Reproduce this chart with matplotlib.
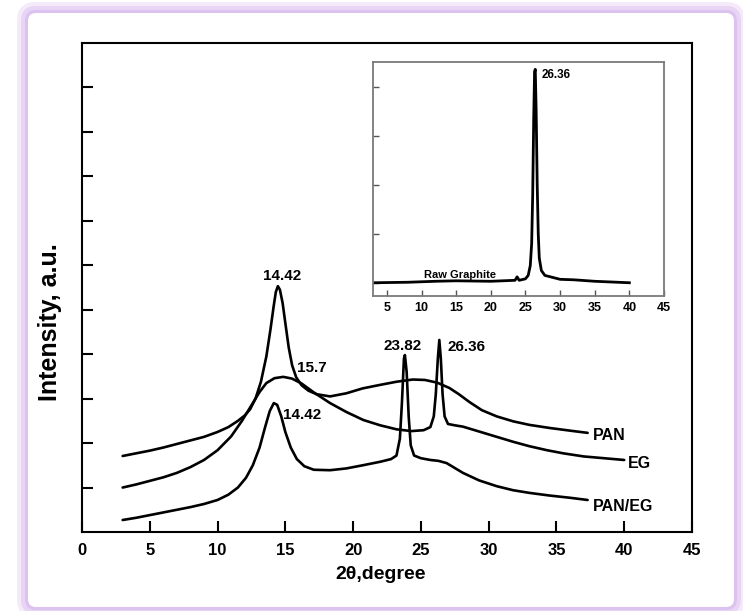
import matplotlib
matplotlib.use('Agg')
import matplotlib.pyplot as plt
from matplotlib.patches import FancyBboxPatch
from matplotlib.transforms import IdentityTransform

plt.rcParams['font.family'] = ['Liberation Sans', 'DejaVu Sans']
plt.rcParams['font.weight'] = 'bold'

# ---------------- data ----------------
pan_x = [3, 4, 5, 6, 7, 8, 9, 10, 10.8, 11.5, 12, 12.4, 12.8, 13.2, 13.6, 13.9, 14.15,
         14.3, 14.45, 14.6, 14.8, 15.0, 15.25, 15.5, 15.8, 16.2, 16.7, 17.3, 18.3, 19.5,
         20.7, 22, 23.2, 24.4, 25.3, 26.2, 27.1, 27.8, 28.6, 29.5, 30.6, 31.8, 33.0,
         34.5, 36, 37.3]
pan_y = [1.71, 1.77, 1.83, 1.9, 1.98, 2.06, 2.14, 2.25, 2.36, 2.5, 2.62, 2.76, 3.0, 3.38,
         3.95, 4.55, 5.1, 5.4, 5.53, 5.45, 5.15, 4.7, 4.15, 3.75, 3.48, 3.3, 3.18, 3.1,
         3.05, 3.12, 3.23, 3.31, 3.38, 3.43, 3.42, 3.36, 3.24, 3.1, 2.92, 2.74, 2.6,
         2.49, 2.41, 2.34, 2.28, 2.23]

eg_x = [3, 4, 5, 6, 7, 8, 9, 10, 11, 11.8, 12.5, 13.1, 13.6, 14.2, 14.85, 15.5, 16.2,
        17.1, 18.3, 19.5, 20.75, 22, 23.2, 24.3, 25.2, 25.7, 25.95, 26.1, 26.25, 26.36,
        26.47, 26.6, 26.75, 27.0, 27.5, 28.1, 29.3, 30.6, 31.8, 33.0, 34.3, 35.5, 37,
        38.5, 40]
eg_y = [1.0, 1.07, 1.15, 1.23, 1.33, 1.46, 1.62, 1.84, 2.15, 2.5, 2.85, 3.15, 3.35, 3.46,
        3.49, 3.45, 3.34, 3.14, 2.9, 2.7, 2.52, 2.4, 2.31, 2.27, 2.29, 2.36, 2.6, 3.1,
        3.9, 4.32, 3.9, 3.1, 2.6, 2.43, 2.4, 2.37, 2.26, 2.14, 2.03, 1.93, 1.84, 1.77,
        1.7, 1.66, 1.62]

paneg_x = [3, 4, 5, 6, 7, 8, 9, 10, 10.8, 11.5, 12.1, 12.6, 13.1, 13.5, 13.85, 14.15,
           14.4, 14.7, 15.0, 15.4, 15.85, 16.4, 17.1, 18.3, 19.5, 20.7, 22.0, 22.8, 23.2,
           23.45, 23.6, 23.75, 23.82, 23.95, 24.1, 24.25, 24.5, 25.0, 25.7, 26.3, 26.9,
           27.5, 28.1, 29.3, 30.6, 31.8, 33.0, 34.5, 36, 37.3]
paneg_y = [0.27, 0.32, 0.38, 0.44, 0.5, 0.56, 0.63, 0.72, 0.84, 1.0, 1.22, 1.5, 1.9,
           2.35, 2.72, 2.9, 2.86, 2.6, 2.25, 1.9, 1.64, 1.48, 1.4, 1.39, 1.43, 1.5, 1.58,
           1.64, 1.72, 2.1, 2.9, 3.9, 3.98, 3.6, 2.6, 1.95, 1.72, 1.66, 1.62, 1.6, 1.55,
           1.44, 1.33, 1.16, 1.03, 0.94, 0.88, 0.82, 0.77, 0.72]

raw_x = [3, 8, 12, 15, 20, 23.5, 23.8, 24.1, 25, 25.4, 25.7, 25.9, 26.05, 26.2, 26.32,
         26.42, 26.55, 26.7, 26.85, 27.0, 27.3, 27.8, 30, 32, 35, 40]
raw_y = [0.0, 0.01, 0.03, 0.04, 0.03, 0.05, 0.12, 0.05, 0.08, 0.15, 0.35, 0.8, 1.8, 3.4,
         4.3, 4.35, 3.5, 2.0, 1.0, 0.5, 0.25, 0.15, 0.07, 0.06, 0.03, 0.0]

main_xticks = [0, 5, 10, 15, 20, 25, 30, 35, 40, 45]
main_yticks = [1, 2, 3, 4, 5, 6, 7, 8, 9, 10]
inset_xticks = [5, 10, 15, 20, 25, 30, 35, 40, 45]
inset_yticks = [0, 1, 2, 3, 4]

peak_labels = [("14.42", 14.8, 5.76, 'center'),
               ("15.7", 15.85, 3.69, 'left'),
               ("23.82", 23.68, 4.18, 'center'),
               ("26.36", 27.0, 4.16, 'left'),
               ("14.42", 14.8, 2.63, 'left')]
series_labels = [("PAN", 37.7, 2.18), ("EG", 40.28, 1.55), ("PAN/EG", 37.7, 0.58)]

# ---------------- figure ----------------
W, H = 743, 611
fig = plt.figure(figsize=(W / 100, H / 100), dpi=100)
fig.patch.set_facecolor('white')


def px_rect(l, t, r, b, color, z, rs):
    p = FancyBboxPatch((l, H - b), r - l, b - t,
                       boxstyle=f"round,pad=0,rounding_size={rs}",
                       transform=IdentityTransform(), facecolor=color,
                       edgecolor='none', zorder=z)
    fig.add_artist(p)


# purple glowing frame
inner = (28, 13, 734, 607)
for d, col, z in [(11, '#F4EAF9', -10), (7, '#E8D4F4', -9), (3, '#DCC2EE', -8), (0, 'white', -7)]:
    px_rect(inner[0] - d, inner[1] - d, inner[2] + d, inner[3] + d, col, z, 8 + d)

# main axes
ax = fig.add_axes([82 / W, 1 - 532 / H, 610 / W, 489 / H])
ax.set_facecolor('white')
for xs, ys in [(pan_x, pan_y), (eg_x, eg_y), (paneg_x, paneg_y)]:
    ax.plot(xs, ys, color='black', lw=1.9, solid_joinstyle='round', solid_capstyle='round')
ax.set_xlim(0, 45)
ax.set_ylim(0, 11)
ax.set_xticks(main_xticks)
ax.set_yticks(main_yticks)
ax.set_yticklabels([])
ax.tick_params(direction='in', length=8, width=1.5, top=False, right=False)
ax.tick_params(axis='x', labelsize=12, pad=8)
for s in ax.spines.values():
    s.set_linewidth(1.5)
ax.set_xlabel("2θ,degree", fontsize=14, fontweight='bold')
ax.xaxis.set_label_coords(0.489, -0.07)
ax.set_ylabel("Intensity, a.u.", fontsize=18, fontweight='bold')
ax.yaxis.set_label_coords(-0.033, 0.43)

for t, x, y, ha in peak_labels:
    ax.text(x, y, t, fontsize=11, fontweight='bold', ha=ha, va='center')
for t, x, y in series_labels:
    ax.text(x, y, t, fontsize=11.5, fontweight='bold', ha='left', va='center')

# inset axes
ax2 = fig.add_axes([373 / W, 1 - 296 / H, 291 / W, 234 / H])
ax2.set_facecolor('white')
ax2.plot(raw_x, raw_y, color='black', lw=2.0, solid_joinstyle='round')
ax2.set_xlim(3, 45)
ax2.set_ylim(-0.27, 4.5)
ax2.set_xticks(inset_xticks)
ax2.set_yticks(inset_yticks)
ax2.set_yticklabels([])
ax2.tick_params(direction='in', length=4, width=1.0, color='#555555',
                top=False, right=False)
ax2.tick_params(axis='x', labelsize=9, pad=4)
for s in ax2.spines.values():
    s.set_linewidth(1.3)
    s.set_color('#7a7a7a')
ax2.text(27.3, 4.24, "26.36", fontsize=8.5, fontweight='bold', ha='left', va='center')
ax2.text(15.5, 0.16, "Raw Graphite", fontsize=8, fontweight='bold', ha='center', va='center')

fig.savefig('out.png', dpi=100)
